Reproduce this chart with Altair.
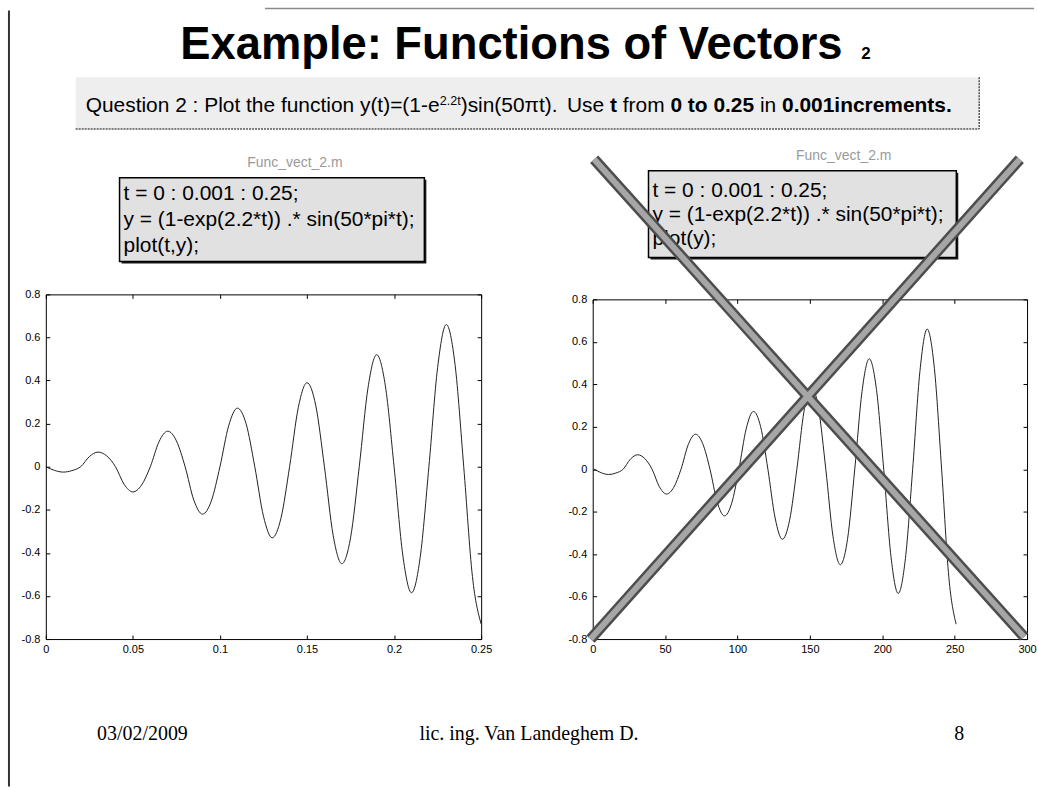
import altair as alt
import pandas as pd

# ---------------- data ----------------
t_vals = [0, 0.005, 0.01, 0.015, 0.02, 0.025, 0.03, 0.035, 0.04, 0.045,
          0.05, 0.055, 0.06, 0.065, 0.07, 0.075, 0.08, 0.085, 0.09, 0.095,
          0.10, 0.105, 0.11, 0.115, 0.12, 0.125, 0.13, 0.135, 0.14, 0.145,
          0.15, 0.155, 0.16, 0.165, 0.17, 0.175, 0.18, 0.185, 0.19, 0.195,
          0.20, 0.205, 0.21, 0.215, 0.22, 0.225, 0.23, 0.235, 0.24, 0.245, 0.25]
y_vals = [0, -0.017, -0.025, -0.018, 0, 0.047, 0.068, 0.05, 0, -0.082,
          -0.117, -0.085, 0, 0.116, 0.165, 0.12, 0, -0.155, -0.22, -0.16,
          0, 0.19, 0.272, 0.2, 0, -0.23, -0.33, -0.24, 0, 0.275,
          0.39, 0.285, 0, -0.318, -0.45, -0.33, 0, 0.365, 0.52, 0.375,
          0, -0.41, -0.585, -0.42, 0, 0.46, 0.66, 0.475, 0, -0.51, -0.73]

left_x_ticks = [0, 0.05, 0.1, 0.15, 0.2, 0.25]
right_x_ticks = [0, 50, 100, 150, 200, 250, 300]
y_ticks = [-0.8, -0.6, -0.4, -0.2, 0, 0.2, 0.4, 0.6, 0.8]

# the big X over the right panel (in the right panel's data units)
cross_x1 = [1, 295]
cross_y1 = [1.46, 1.46]
cross_x2 = [298, -1.5]
cross_y2 = [-0.79, -0.80]

title_main = "Example: Functions of Vectors"
title_sub = "2"
question_parts = [
    ("Question 2 : Plot the function y(t)=(1-e", False, False),
    ("2.2t", False, True),
    (")sin(50\u03c0t).", False, False),
    ("  Use ", False, False),
    ("t", True, False),
    (" from ", False, False),
    ("0 to 0.25", True, False),
    (" in ", False, False),
    ("0.001increments.", True, False),
]
code_left = ["t = 0 : 0.001 : 0.25;", "y = (1-exp(2.2*t)) .* sin(50*pi*t);", "plot(t,y);"]
code_right = ["t = 0 : 0.001 : 0.25;", "y = (1-exp(2.2*t)) .* sin(50*pi*t);", "plot(y);"]
code_title = "Func_vect_2.m"
footer_date = "03/02/2009"
footer_author = "lic. ing. Van Landeghem D."
footer_page = "8"

# ---------------- styling / layout ----------------
SANS = "Liberation Sans, Arial, sans-serif"
SERIF = "Liberation Serif, Times New Roman, serif"
LW, LH = 437, 346          # left plot area
RW, RH = 436, 341          # right plot area
OX, OY = 45, 293           # left plot origin on the page
ROX, ROY = 594, 298        # right plot origin on the page

W_REG = {' ': 278, 'Q': 778, 'u': 556, 'e': 556, 's': 500, 't': 278, 'i': 222, 'o': 556,
         'n': 556, ':': 278, 'P': 667, 'l': 222, 'h': 556, 'f': 278, 'c': 500, 'y': 500,
         '(': 333, ')': 333, '=': 584, '-': 333, '.': 278, 'U': 722, 'm': 833, 'r': 333,
         '\u03c0': 580}
W_BOLD = {' ': 278, 't': 333, 'o': 611, '.': 278, 'i': 278, 'n': 611, 'c': 556, 'r': 389,
          'e': 556, 'm': 889, 's': 556, 'E': 667, 'x': 556, 'a': 556, 'p': 611, 'l': 278,
          ':': 333, 'F': 611, 'u': 611, 'f': 333, 'V': 667}


def tw(s, bold, size):
    tbl = W_BOLD if bold else W_REG
    return sum(tbl.get(c, 556) for c in s) / 1000.0 * size


one = pd.DataFrame({"k": [0]})


def txt(s, x, y, size, weight="normal", font=SANS, color="black", align="left"):
    return alt.Chart(one).mark_text(
        text=s, align=align, baseline="alphabetic", font=font, fontSize=size,
        fontWeight=weight, color=color
    ).encode(x=alt.value(x), y=alt.value(y))


def box(x1, x2, y1, y2, fill, stroke="transparent", sw=0):
    return alt.Chart(one).mark_rect(fill=fill, stroke=stroke, strokeWidth=sw).encode(
        x=alt.value(x1), x2=alt.value(x2), y=alt.value(y1), y2=alt.value(y2))


def rule(x1, x2, y1, y2, color, sw, dash=None):
    kw = dict(color=color, strokeWidth=sw)
    if dash:
        kw["strokeDash"] = dash
    return alt.Chart(one).mark_rule(**kw).encode(
        x=alt.value(x1), x2=alt.value(x2), y=alt.value(y1), y2=alt.value(y2))


def code_box(bx1, bx2, by1, by2, lines, tx, base0, step, tcx, tby):
    layers = [
        txt(code_title, tcx, tby, 14, color="#9a9a9a", align="center"),
        box(bx1 + 2, bx2 + 2, by1 + 2, by2 + 2, "#1a1a1a"),
        box(bx1, bx2, by1, by2, "#e1e1e1", "black", 1.5),
    ]
    for i, ln in enumerate(lines):
        layers.append(txt(ln, tx, base0 + i * step, 21, font=SANS))
    return layers


label_expr = "replace(datum.label, '\u2212', '-')"
common = dict(tickSize=4, offset=-4, domain=False, grid=False, tickColor="black",
              labelFont=SANS, labelFontSize=11, labelColor="black", title=None,
              labelFlush=False, labelOverlap=False)

curve = pd.DataFrame({"t": t_vals, "y": y_vals})

# ---------------- left panel (carries the page decorations) ----------------
dl = []
dl.append(box(-OX, -OX + 1, -OY, -OY + 1, "white").mark_rect(opacity=0))
dl.append(rule(8 - OX, 8 - OX, 8 - OY, 787 - OY, "#333333", 2))
dl.append(rule(265 - OX, 1037 - OX, 6 - OY, 6 - OY, "#8a8a8a", 1.5))
TS = 45.5
dl.append(txt(title_main, 180 - OX, 57 - OY, TS, weight="bold"))
dl.append(txt(title_sub, 180 + tw(title_main, True, TS) + 16 - OX, 57 - OY, 17, weight="bold"))

# question box
dl.append(box(75 - OX, 982 - OX, 75 - OY, 127 - OY, "#eeeeee"))
dl.append(rule(75 - OX, 982 - OX, 127 - OY, 127 - OY, "#555555", 1.5, [2, 1]))
dl.append(rule(982 - OX, 982 - OX, 75 - OY, 127 - OY, "#555555", 1.5, [2, 1]))
QS = 21
cur = 85.0
for s, bold, sup in question_parts:
    size = QS * 0.6 if sup else QS
    lead = len(s) - len(s.lstrip(" "))
    xpos = cur + tw(" " * lead, bold, size)
    ypos = 110 - (QS * 0.36 if sup else 0)
    if s.strip():
        dl.append(txt(s.strip(), xpos - OX, ypos - OY, size, weight="bold" if bold else "normal"))
    cur += tw(s, bold, size)

dl += code_box(119 - OX, 425 - OX, 176 - OY, 260 - OY, code_left,
               123 - OX, 198 - OY, 26, 295 - OX, 165 - OY)

FY = 740
dl.append(txt(footer_date, 142 - OX, FY - OY, 20, font=SERIF, align="center"))
dl.append(txt(footer_author, 530 - OX, FY - OY, 20, font=SERIF, align="center"))
dl.append(txt(footer_page, 962 - OX, FY - OY, 20, font=SERIF, align="center"))

xs_l = alt.Scale(domain=[0, 0.25], nice=False, zero=False)
ys = alt.Scale(domain=[-0.8, 0.8], nice=False, zero=False)
l_line = alt.Chart(curve).mark_line(color="#222222", strokeWidth=1, interpolate="monotone").encode(
    x=alt.X("t:Q", scale=xs_l, axis=alt.Axis(orient="bottom", values=left_x_ticks, format="~g",
                                             labelExpr=label_expr, labelPadding=4, **common)),
    y=alt.Y("y:Q", scale=ys, axis=alt.Axis(orient="left", values=y_ticks, format="~g",
                                           labelExpr=label_expr, labelPadding=6, **common)),
)
l_frame = alt.Chart(curve).mark_line(opacity=0).encode(
    x=alt.X("t:Q", scale=xs_l, axis=alt.Axis(orient="top", values=left_x_ticks, labels=False, **common)),
    y=alt.Y("y:Q", scale=ys, axis=alt.Axis(orient="right", values=y_ticks, labels=False, **common)),
)
left = alt.layer(*dl, l_line, l_frame).properties(width=LW, height=LH).resolve_axis(
    x="independent", y="independent")

# ---------------- right panel ----------------
curve_r = alt.Chart(curve).transform_calculate(idx="datum.t * 1000 + 1")
dr = code_box(650 - ROX, 959 - ROX, 169 - ROY, 256 - ROY, code_right,
              654 - ROX, 195 - ROY, 24, 846 - ROX, 158 - ROY)

xs_r = alt.Scale(domain=[0, 300], nice=False, zero=False)
ys_r = alt.Scale(domain=[-0.8, 0.8], nice=False, zero=False)
r_line = curve_r.mark_line(color="#222222", strokeWidth=1, interpolate="monotone").encode(
    x=alt.X("idx:Q", scale=xs_r, axis=alt.Axis(orient="bottom", values=right_x_ticks, format="d",
                                               labelPadding=4, **common)),
    y=alt.Y("y:Q", scale=ys_r, axis=alt.Axis(orient="left", values=y_ticks, format="~g",
                                             labelExpr=label_expr, labelPadding=6, **common)),
)
r_frame = curve_r.mark_line(opacity=0).encode(
    x=alt.X("idx:Q", scale=xs_r, axis=alt.Axis(orient="top", values=right_x_ticks, labels=False, **common)),
    y=alt.Y("y:Q", scale=ys_r, axis=alt.Axis(orient="right", values=y_ticks, labels=False, **common)),
)
cross_df = pd.DataFrame({"x": cross_x1, "y": cross_y1, "x2": cross_x2, "y2": cross_y2})
cross_enc = dict(x=alt.X("x:Q", scale=xs_r, axis=None), y=alt.Y("y:Q", scale=ys_r, axis=None),
                 x2="x2:Q", y2="y2:Q")
cross_outer = alt.Chart(cross_df).mark_rule(color="#4d4d4d", strokeWidth=11, strokeCap="butt").encode(**cross_enc)
cross_inner = alt.Chart(cross_df).mark_rule(color="#a6a6a6", strokeWidth=6, strokeCap="butt").encode(**cross_enc)

right = alt.layer(*dr, r_line, r_frame, cross_outer, cross_inner).properties(
    width=RW, height=RH).resolve_axis(x="independent", y="independent")

spacer = alt.Chart(one).mark_point(opacity=0).encode(x=alt.value(0), y=alt.value(0)).properties(
    width=RW, height=ROY - OY, view=alt.ViewBackground(stroke="transparent"))
right_col = alt.vconcat(spacer, right, spacing=0, bounds="flush")

chart = alt.hconcat(left, right_col, spacing=ROX - (OX + LW), bounds="flush").properties(
    padding=0, background="white"
).configure_view(stroke="black", strokeWidth=1)

chart.save("out.html", embed_options={"renderer": "svg", "actions": False})
